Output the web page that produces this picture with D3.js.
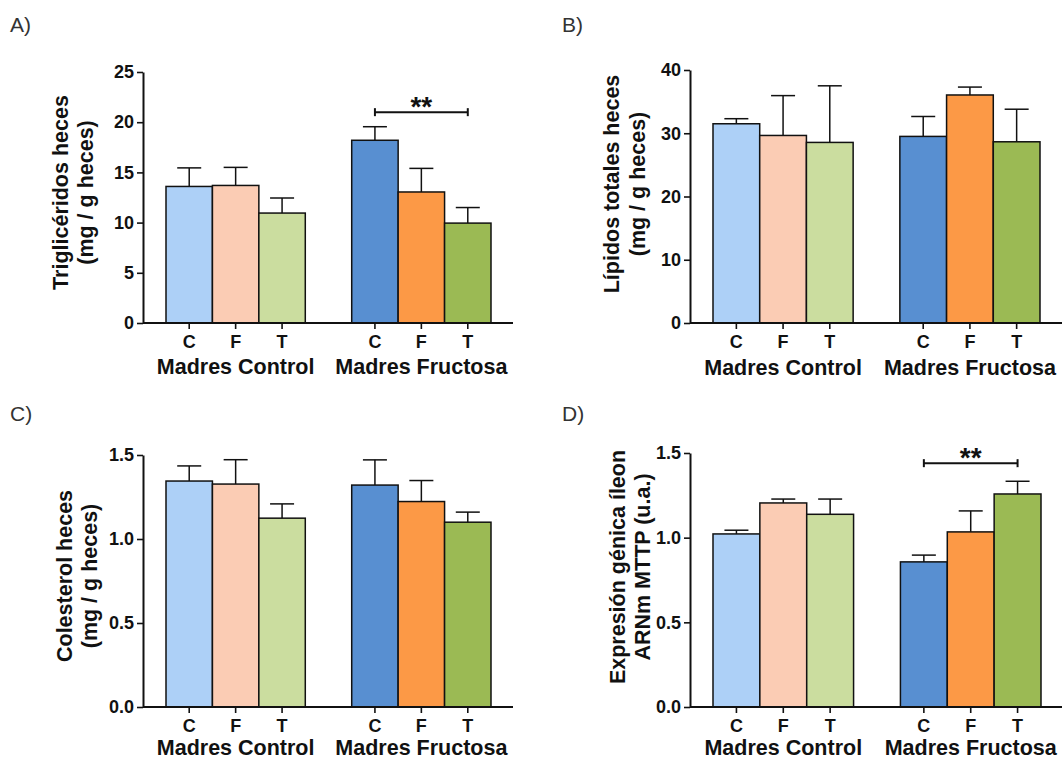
<!DOCTYPE html>
<html>
<head>
<meta charset="utf-8">
<script src="https://cdn.jsdelivr.net/npm/d3@7"></script>
<style>
  body { margin: 0; background: #fff; }
  svg { display: block; }
  text { font-family: "Liberation Sans", Arial, sans-serif; }
</style>
</head>
<body>
<svg id="chart" width="1062" height="760"></svg>
<script>
// Offspring groups and maternal diet groups
const categories = ["C", "F", "T"];
const groups = ["Madres Control", "Madres Fructosa"];

// Faecal triglycerides (mg / g heces): mean and SEM, Control C,F,T then Fructosa C,F,T
const trigMean = [13.6, 13.7, 10.95, 18.2, 13.05, 9.95];
const trigSem  = [1.85, 1.8, 1.5, 1.35, 2.35, 1.55];

// Faecal total lipids (mg / g heces)
const lipMean = [31.5, 29.65, 28.55, 29.5, 36.05, 28.65];
const lipSem  = [0.8, 6.3, 8.95, 3.15, 1.25, 5.15];

// Faecal cholesterol (mg / g heces)
const colMean = [1.345, 1.327, 1.124, 1.321, 1.223, 1.100];
const colSem  = [0.09, 0.145, 0.085, 0.15, 0.125, 0.06];

// Ileal MTTP mRNA expression (u.a.)
const mttpMean = [1.022, 1.205, 1.138, 0.857, 1.034, 1.258];
const mttpSem  = [0.022, 0.023, 0.09, 0.04, 0.124, 0.075];

// Y-axis tick values
const trigTicks = [0, 5, 10, 15, 20, 25];
const lipTicks  = [0, 10, 20, 30, 40];
const colTicks  = [0, 0.5, 1.0, 1.5];
const mttpTicks = [0, 0.5, 1.0, 1.5];

// Significance marks: [from bar, to bar, bracket height in data units]
const trigSig = [3, 5, 21.0];
const mttpSig = [3, 5, 1.44];

const barColors = ["#add0f7", "#fbccb4", "#cbdd9f", "#588fd1", "#fc9946", "#9bba54"];

const panels = [
  { tag: "A)", tagX: 10, tagY: 32, mean: trigMean, sem: trigSem, ticks: trigTicks,
    fmt: d3.format("d"), axisX: 143, top: 72, bottom: 323, barL: 166, barR: 491, axisR: 513,
    title: ["Triglicéridos heces", "(mg / g heces)"], titleX: [68, 93], titleY: 192.5,
    groupY: 374, sig: trigSig },
  { tag: "B)", tagX: 562, tagY: 32, mean: lipMean, sem: lipSem, ticks: lipTicks,
    fmt: d3.format("d"), axisX: 690, top: 70, bottom: 323, barL: 713, barR: 1040, axisR: 1062,
    title: ["Lípidos totales heces", "(mg / g heces)"], titleX: [619, 645], titleY: 184,
    groupY: 375, sig: null },
  { tag: "C)", tagX: 10, tagY: 421, mean: colMean, sem: colSem, ticks: colTicks,
    fmt: d3.format(".1f"), axisX: 143, top: 455, bottom: 707, barL: 166, barR: 491, axisR: 513,
    title: ["Colesterol heces", "(mg / g heces)"], titleX: [72, 97], titleY: 576,
    groupY: 755, sig: null },
  { tag: "D)", tagX: 562, tagY: 421, mean: mttpMean, sem: mttpSem, ticks: mttpTicks,
    fmt: d3.format(".1f"), axisX: 690, top: 453, bottom: 707, barL: 713, barR: 1041, axisR: 1062,
    title: ["Expresión génica íleon", "ARNm MTTP (u.a.)"], titleX: [625, 650], titleY: 567,
    groupY: 755, sig: mttpSig }
];

const svg = d3.select("#chart");

panels.forEach(p => {
  const g = svg.append("g");

  const y = d3.scaleLinear()
    .domain([0, p.ticks[p.ticks.length - 1]])
    .range([p.bottom, p.top]);

  const x0 = d3.scaleBand().domain(groups).range([p.barL, p.barR])
    .paddingInner(0.25).paddingOuter(0);
  const x1 = d3.scaleBand().domain(categories).range([0, x0.bandwidth()]).padding(0);

  const rows = p.mean.map((m, i) => ({
    group: groups[Math.floor(i / 3)],
    cat: categories[i % 3],
    mean: m,
    sem: p.sem[i],
    color: barColors[i]
  }));
  const bx = d => x0(d.group) + x1(d.cat);
  const bw = x1.bandwidth();

  // panel tag
  g.append("text")
    .attr("x", p.tagX).attr("y", p.tagY)
    .attr("font-size", 21).attr("fill", "#333")
    .text(p.tag);

  // error bars (upper only)
  const eb = g.append("g").attr("stroke", "#111").attr("stroke-width", 1.5);
  rows.forEach(d => {
    const cx = bx(d) + bw / 2;
    eb.append("line").attr("x1", cx).attr("x2", cx)
      .attr("y1", y(d.mean)).attr("y2", y(d.mean + d.sem));
    eb.append("line").attr("x1", cx - 12).attr("x2", cx + 12)
      .attr("y1", y(d.mean + d.sem)).attr("y2", y(d.mean + d.sem));
  });

  // bars
  g.append("g").selectAll("rect").data(rows).join("rect")
    .attr("x", bx)
    .attr("y", d => y(d.mean))
    .attr("width", bw)
    .attr("height", d => y(0) - y(d.mean))
    .attr("fill", d => d.color)
    .attr("stroke", "#111")
    .attr("stroke-width", 1.5);

  // y axis
  const yAxis = d3.axisLeft(y).tickValues(p.ticks).tickFormat(p.fmt)
    .tickSize(6).tickSizeOuter(0).tickPadding(3);
  const ya = g.append("g").attr("transform", `translate(${p.axisX},0)`).call(yAxis);
  ya.select(".domain").attr("stroke", "#111").attr("stroke-width", 2);
  ya.selectAll(".tick line").attr("stroke", "#111").attr("stroke-width", 1.6);
  ya.selectAll(".tick text").attr("font-size", 18).attr("font-weight", "bold")
    .attr("fill", "#111").attr("font-family", "'Liberation Sans', Arial, sans-serif");

  // x axis baseline
  g.append("line")
    .attr("x1", p.axisX).attr("x2", p.axisR)
    .attr("y1", y(0)).attr("y2", y(0))
    .attr("stroke", "#111").attr("stroke-width", 2);

  // x ticks and category labels
  rows.forEach(d => {
    const cx = bx(d) + bw / 2;
    g.append("line").attr("x1", cx).attr("x2", cx)
      .attr("y1", y(0)).attr("y2", y(0) + 6)
      .attr("stroke", "#111").attr("stroke-width", 1.6);
    g.append("text").attr("x", cx).attr("y", y(0) + 25)
      .attr("text-anchor", "middle").attr("font-size", 18).attr("font-weight", "bold")
      .attr("fill", "#111").text(d.cat);
  });

  // group labels
  groups.forEach(gr => {
    g.append("text")
      .attr("x", x0(gr) + x0.bandwidth() / 2).attr("y", p.groupY)
      .attr("text-anchor", "middle").attr("font-size", 21.5).attr("font-weight", "bold")
      .attr("fill", "#111").text(gr);
  });

  // y title (two lines)
  p.title.forEach((t, i) => {
    g.append("text")
      .attr("transform", `translate(${p.titleX[i]},${p.titleY}) rotate(-90)`)
      .attr("text-anchor", "middle").attr("font-size", 21.5).attr("font-weight", "bold")
      .attr("fill", "#111").text(t);
  });

  // significance bracket
  if (p.sig) {
    const [a, b, v] = p.sig;
    const xa = bx(rows[a]) + bw / 2, xb = bx(rows[b]) + bw / 2, yy = y(v);
    const s = g.append("g").attr("stroke", "#111").attr("stroke-width", 2);
    s.append("line").attr("x1", xa).attr("x2", xb).attr("y1", yy).attr("y2", yy);
    s.append("line").attr("x1", xa).attr("x2", xa).attr("y1", yy - 4).attr("y2", yy + 4);
    s.append("line").attr("x1", xb).attr("x2", xb).attr("y1", yy - 4).attr("y2", yy + 4);
    g.append("text").attr("x", (xa + xb) / 2).attr("y", yy + 4)
      .attr("text-anchor", "middle").attr("font-size", 28).attr("font-weight", "bold")
      .attr("fill", "#111").text("**");
  }
});
</script>
</body>
</html>
